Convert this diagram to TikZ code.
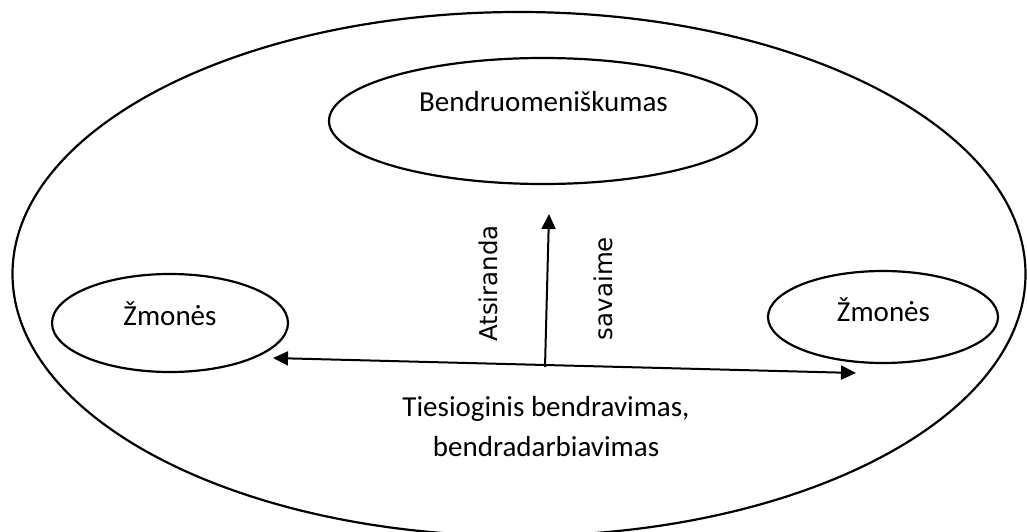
\documentclass[tikz,border=0pt]{standalone}
\usepackage{fontspec}
\setmainfont{Carlito}
\newfontfamily\dvfont{DejaVu Sans}
\usetikzlibrary{shapes.geometric,arrows.meta}
\begin{document}
\begin{tikzpicture}[x=1pt,y=-1pt,
  oval/.style={draw,ellipse,line width=2.2pt,inner sep=0pt},
  lbl/.style={font=\fontsize{29}{35}\selectfont,anchor=base,inner sep=0pt},
  vlbl/.style={font=\dvfont\fontsize{24.5}{29}\selectfont,anchor=base,rotate=90,inner sep=0pt},
  >={Triangle[length=15pt,width=14pt]},
  conn/.style={line width=2pt}]
\useasboundingbox (0,0) rectangle (1027,532);
\clip (0,0) rectangle (1027,532);
\node[oval,minimum width=1013pt,minimum height=524pt] (big) at (519,274) {};
\node[oval,minimum width=428pt,minimum height=126pt] (top) at (543,121) {};
\node[oval,minimum width=236pt,minimum height=98pt] (left) at (170,323) {};
\node[oval,minimum width=230pt,minimum height=92pt] (right) at (883,317) {};
\node[lbl] (ttop) at (543.5,112) {Bendruomeniškumas};
\node[lbl] (tleft) at (170,325) {Žmonės};
\node[lbl] (tright) at (883.5,321) {Žmonės};
\node[lbl] (t1) at (546,416) {Tiesioginis bendravimas,};
\node[lbl] (t2) at (546,456) {bendradarbiavimas};
\node[vlbl] (va) at (497,283.5) {Atsiranda};
\node[vlbl] (vs) at (612,288.5) {savaime};
\coordinate (hl) at (273,358);
\coordinate (hr) at (856,373);
\coordinate (vb) at (545,367);
\coordinate (vt) at (549,214);
\draw[conn,<->] (hl) -- (hr);
\draw[conn,->] (vb) -- (vt);
\end{tikzpicture}
\end{document}
